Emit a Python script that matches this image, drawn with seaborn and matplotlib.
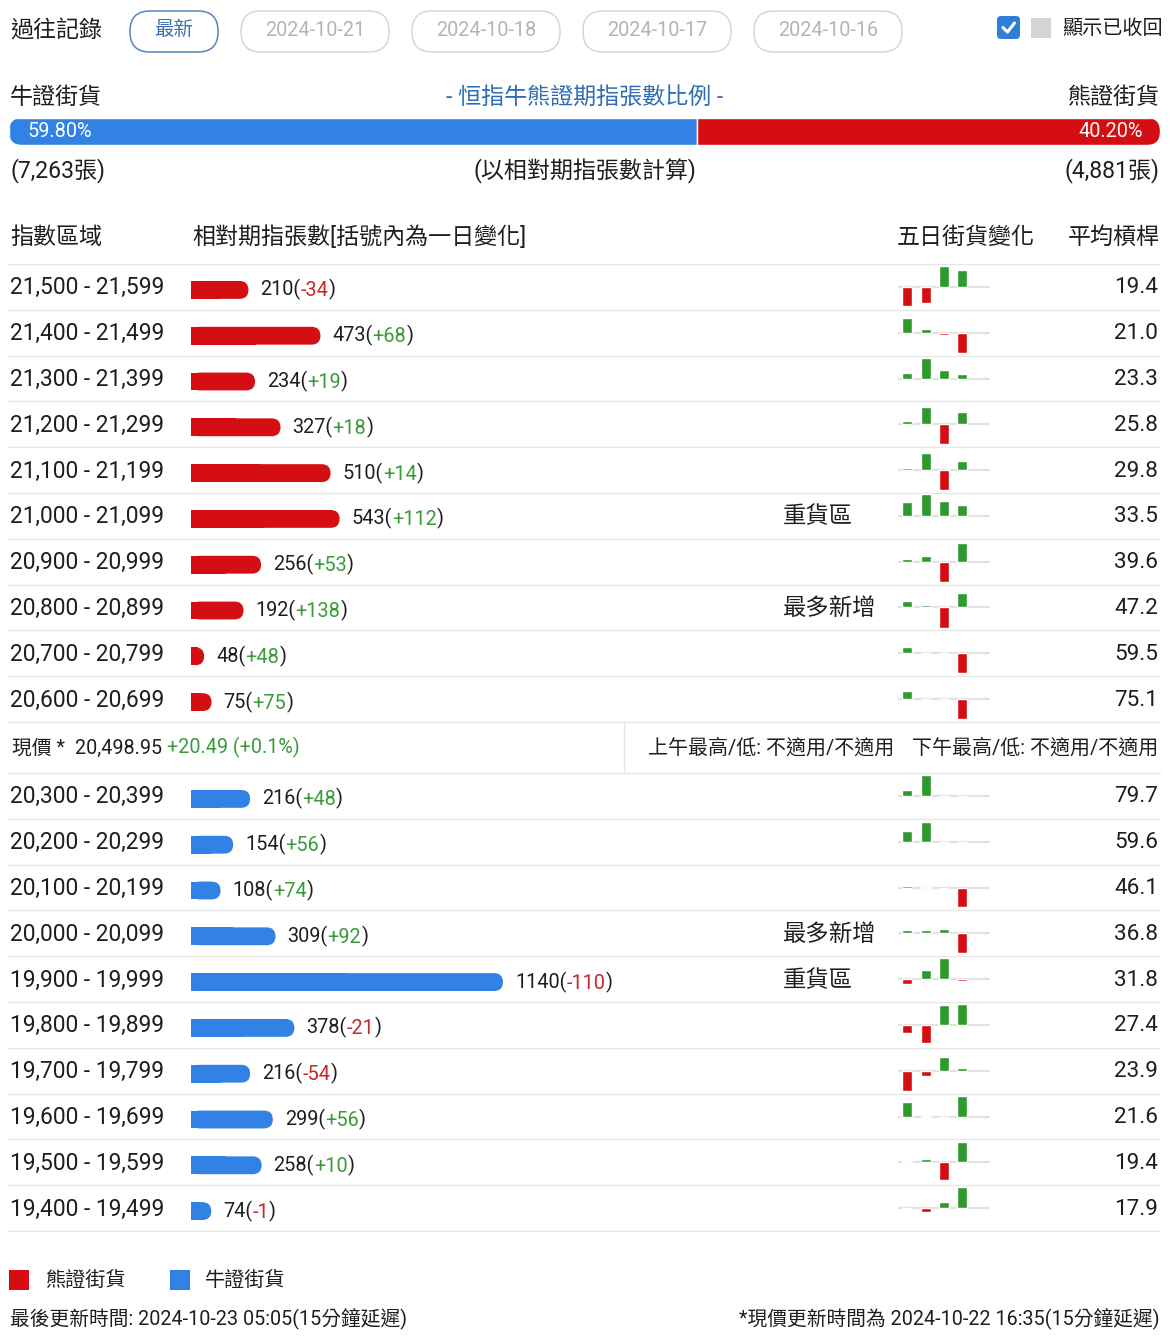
import matplotlib
matplotlib.use('Agg')
import matplotlib.pyplot as plt
from matplotlib.patches import FancyBboxPatch, Rectangle
import seaborn as sns
import pandas as pd

sns.set_theme(style='white')
plt.rcParams['font.family'] = ['Roboto', 'Noto Sans CJK TC', 'DejaVu Sans']

# ---- data ----
history_dates = ['2024-10-21', '2024-10-18', '2024-10-17', '2024-10-16']
bull_total = 7263
bear_total = 4881
bull_pct = 59.80
bear_pct = 40.20

bear_ranges = ['21,500 - 21,599', '21,400 - 21,499', '21,300 - 21,399', '21,200 - 21,299',
               '21,100 - 21,199', '21,000 - 21,099', '20,900 - 20,999', '20,800 - 20,899',
               '20,700 - 20,799', '20,600 - 20,699']
bear_counts = [210, 473, 234, 327, 510, 543, 256, 192, 48, 75]
bear_changes = [-34, 68, 19, 18, 14, 112, 53, 138, 48, 75]
bear_leverage = [19.4, 21.0, 23.3, 25.8, 29.8, 33.5, 39.6, 47.2, 59.5, 75.1]
bear_tags = ['', '', '', '', '', '重貨區', '', '最多新增', '', '']
# five-day change, relative scale
bear_5d = [[-19, -16, 21, 17], [15, 4, -2, -20], [6, 21, 9, 5], [3, 17, -20, 12],
           [2, 17, -20, 9], [14, 22, 15, 11], [3, 6, -20, 19], [7, 3, -21, 15],
           [6, 0, 0, -20], [8, 0, 0, -20]]

bull_ranges = ['20,300 - 20,399', '20,200 - 20,299', '20,100 - 20,199', '20,000 - 20,099',
               '19,900 - 19,999', '19,800 - 19,899', '19,700 - 19,799', '19,600 - 19,699',
               '19,500 - 19,599', '19,400 - 19,499']
bull_counts = [216, 154, 108, 309, 1140, 378, 216, 299, 258, 74]
bull_changes = [48, 56, 74, 92, -110, -21, -54, 56, 10, -1]
bull_leverage = [79.7, 59.6, 46.1, 36.8, 31.8, 27.4, 23.9, 21.6, 19.4, 17.9]
bull_tags = ['', '', '', '最多新增', '重貨區', '', '', '', '', '']
bull_5d = [[6, 21, 0, 0], [11, 20, 0, 0], [2, 1, 0, -20], [3, 3, 4, -20],
           [-5, 9, 21, -2], [-8, -18, 20, 21], [-20, -5, 14, 3], [15, 1, -2, 21],
           [1, 3, -18, 20], [-1, -4, 6, 21]]
days = ['D1', 'D2', 'D3', 'D4']

price = '20,498.95'
price_change = '+20.49 (+0.1%)'
am_text = '上午最高/低: 不適用/不適用'
pm_text = '下午最高/低: 不適用/不適用'
updated = '最後更新時間: 2024-10-23 05:05(15分鐘延遲)'
price_updated = '*現價更新時間為 2024-10-22 16:35(15分鐘延遲)'

RED = '#d40e12'
BLUE = '#3182e4'
GREEN_T = '#3a9a3a'
RED_T = '#c8262a'
GREEN_B = '#2e9a2e'
TXT = '#1e1e1e'
LINE = '#e8e8e8'
CJK = 16.6

W, H = 1176, 1344
fig = plt.figure(figsize=(W / 100, H / 100), dpi=100)
fig.patch.set_facecolor('white')


def px_axes(x0, y0, x1, y1):
    return fig.add_axes([x0 / W, 1 - y1 / H, (x1 - x0) / W, (y1 - y0) / H])


ax = px_axes(0, 0, W, H)
ax.set_xlim(0, W)
ax.set_ylim(H, 0)
ax.axis('off')

# ---- header ----
ax.text(10, 31, '過往記錄', fontsize=CJK, color=TXT, va='center')
ax.add_patch(FancyBboxPatch((130, 11), 88, 41, boxstyle='round,pad=0,rounding_size=20',
                            fc='white', ec='#5585bd', lw=1.1))
ax.text(174, 30, '最新', fontsize=14, color='#3f6fae', ha='center', va='center')
for i, d in enumerate(history_dates):
    x0 = 241 + i * 171
    ax.add_patch(FancyBboxPatch((x0, 11), 148, 41, boxstyle='round,pad=0,rounding_size=20',
                                fc='white', ec='#d6d6d6', lw=1.1))
    ax.text(x0 + 74, 31, d, fontsize=14.3, color='#b4b4b4', ha='center', va='center')

ax.add_patch(FancyBboxPatch((997, 16), 23, 23, boxstyle='round,pad=0,rounding_size=4',
                            fc='#2f7fd8', ec='none'))
ax.plot([1003, 1007.5, 1014.5], [27.5, 32, 23], color='white', lw=2.2,
        solid_capstyle='round', solid_joinstyle='round')
ax.add_patch(Rectangle((1031, 18), 20, 20, fc='#d4d4d4', ec='none'))
ax.text(1062, 28, '顯示已收回', fontsize=14.5, color=TXT, va='center')

ax.text(10, 97, '牛證街貨', fontsize=CJK, color=TXT, va='center')
ax.text(585, 97, '- 恒指牛熊證期指張數比例 -', fontsize=CJK, color='#2f6db3', ha='center', va='center')
ax.text(1160, 97, '熊證街貨', fontsize=CJK, color=TXT, ha='right', va='center')

# ratio bar
share = bull_pct / (bull_pct + bear_pct)
pax = px_axes(9, 118, 1160, 145)
pax.set_xlim(0, 1)
pax.set_ylim(-0.5, 0.5)
pax.axis('off')
clip = FancyBboxPatch((9, 118), 1151, 27, boxstyle='round,pad=0,rounding_size=13.5',
                      transform=ax.transData)
b1 = pax.barh([0], [share], height=1, color=BLUE)
b2 = pax.barh([0], [1 - share], left=[share], height=1, color=RED)
for p in list(b1) + list(b2):
    p.set_clip_path(clip)
pax.text(0.016, 0, f'{bull_pct:.2f}%', color='white', fontsize=14.3, va='center', ha='left')
pax.text(0.985, 0, f'{bear_pct:.2f}%', color='white', fontsize=14.3, va='center', ha='right')

ax.text(10, 171, f'({bull_total:,}張)', fontsize=CJK, color=TXT, va='center')
ax.text(585, 171, '(以相對期指張數計算)', fontsize=CJK, color=TXT, ha='center', va='center')
ax.text(1160, 171, f'({bear_total:,}張)', fontsize=CJK, color=TXT, ha='right', va='center')

ax.text(10, 237, '指數區域', fontsize=CJK, color=TXT, va='center')
ax.text(192, 237, '相對期指張數[括號內為一日變化]', fontsize=CJK, color=TXT, va='center')
ax.text(897, 237, '五日街貨變化', fontsize=CJK, color=TXT, va='center')
ax.text(1160, 237, '平均槓桿', fontsize=CJK, color=TXT, ha='right', va='center')

ROW = 45.8
PX_PER_UNIT = 312 / 1140


def chain(axis, x, y, parts, size, **kw):
    prev = axis.annotate(parts[0][0], xy=(x, y), color=parts[0][1], fontsize=size,
                         ha='left', va='center', **kw)
    for txt, col in parts[1:]:
        prev = axis.annotate(txt, xy=(1, 0), xycoords=prev, color=col, fontsize=size,
                             ha='left', va='bottom')
    return prev


def section(top, ranges, counts, changes, leverage, tags, five_day, color):
    bottom = top + ROW * len(ranges)
    for k in range(len(ranges) + 1):
        ax.plot([8, 1160], [top + k * ROW] * 2, color=LINE, lw=1, zorder=0)
    for i, r in enumerate(ranges):
        yc = top + (i + 0.5) * ROW + 1
        ax.text(10, yc, r, fontsize=16.4, color=TXT, va='center')
        ax.text(1158, yc, f'{leverage[i]:.1f}', fontsize=16.2, color=TXT, va='center', ha='right')
        if tags[i]:
            ax.text(783, yc, tags[i], fontsize=16.8, color=TXT, va='center')

    # main bars
    bax = px_axes(191, top + 3, 891, bottom + 3)
    df = pd.DataFrame({'range': ranges, 'count': counts})
    sns.barplot(data=df, x='count', y='range', orient='h', color=color, width=0.39,
                saturation=1, ax=bax)
    bax.set_xlim(0, 700 / PX_PER_UNIT)
    bax.set_ylim(len(ranges) - 0.5, -0.5)
    bax.axis('off')
    r_x = 9 / PX_PER_UNIT
    aspect = (1 / ROW) / (1 / PX_PER_UNIT)
    for p in list(bax.patches):
        x, y, w, h = p.get_x(), p.get_y(), p.get_width(), p.get_height()
        p.set_width(w / 2)
        p.set_edgecolor('none')
        p.set_linewidth(0)
        p.set_zorder(4)
        bax.add_patch(FancyBboxPatch((x, y), w, h, boxstyle=f'round,pad=0,rounding_size={r_x}',
                                     mutation_aspect=aspect, fc=color, ec='none', lw=0, zorder=3))
    for i, (c, ch) in enumerate(zip(counts, changes)):
        chain(bax, c, i, [(f'{c}(', TXT), (f'{ch:+d}', GREEN_T if ch >= 0 else RED_T), (')', TXT)],
              14.3, xytext=(8.6, 0), textcoords='offset points')

    # five-day mini charts
    for i, vals in enumerate(five_day):
        y0 = top + i * ROW
        m = px_axes(898, y0, 990, y0 + ROW)
        dfm = pd.DataFrame({'day': days, 'chg': vals,
                            'sign': ['up' if v >= 0 else 'down' for v in vals]})
        m.axhline(0, color='#e2e2e2', lw=1.6, zorder=0)
        sns.barplot(data=dfm, x='day', y='chg', hue='sign', palette={'up': GREEN_B, 'down': RED},
                    hue_order=['up', 'down'], dodge=False, width=0.55, saturation=1,
                    legend=False, ax=m)
        m.set_xlim(-0.5, 4.5)
        m.set_ylim(-23, 23)
        m.axis('off')


section(264, bear_ranges, bear_counts, bear_changes, bear_leverage, bear_tags, bear_5d, RED)

# current price row
ax.plot([8, 1160], [773, 773], color=LINE, lw=1, zorder=0)
ax.plot([624, 624], [722, 773], color=LINE, lw=1, zorder=0)
chain(ax, 12, 748, [('現價 *  ', TXT), (price + ' ', TXT), (price_change, GREEN_T)], 14.2)
ax.text(648, 748, am_text, fontsize=14.4, color=TXT, va='center')
ax.text(1158, 748, pm_text, fontsize=14.4, color=TXT, va='center', ha='right')

section(773, bull_ranges, bull_counts, bull_changes, bull_leverage, bull_tags, bull_5d, BLUE)

# legend + footer
ax.add_patch(Rectangle((9, 1270), 20, 20, fc=RED, ec='none'))
ax.text(45, 1280, '熊證街貨', fontsize=14.5, color=TXT, va='center')
ax.add_patch(Rectangle((170, 1270), 20, 20, fc=BLUE, ec='none'))
ax.text(205, 1280, '牛證街貨', fontsize=14.5, color=TXT, va='center')
ax.text(10, 1318, updated, fontsize=14.2, color=TXT, va='center')
ax.text(1160, 1318, price_updated, fontsize=14.2, color=TXT, va='center', ha='right')

fig.savefig('out.png', dpi=100, facecolor='white')
